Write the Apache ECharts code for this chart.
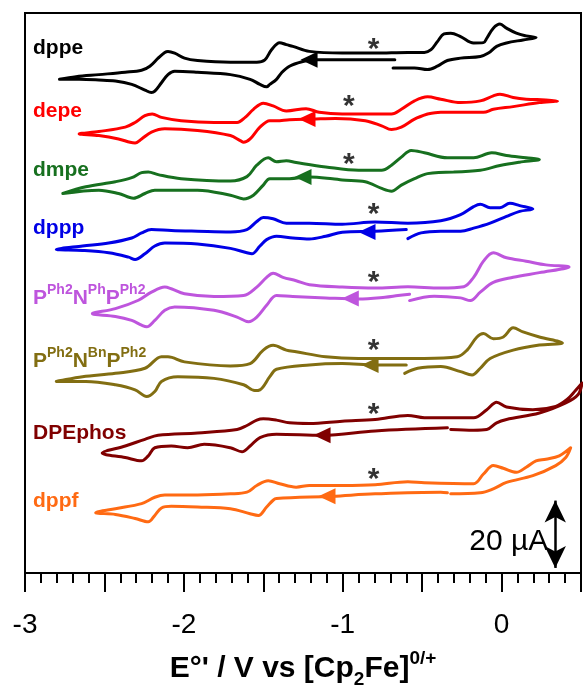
<!DOCTYPE html>
<html>
<head>
<meta charset="utf-8">
<script src="https://cdn.jsdelivr.net/npm/echarts@6/dist/echarts.min.js"></script>
<style>
  html, body { margin: 0; padding: 0; background: #fff; }
  #chart { width: 584px; height: 694px; }
</style>
</head>
<body>
<div id="chart"></div>
<script>
// Stacked cyclic voltammograms, potential E (V vs Cp2Fe 0/+) and current (µA, offset per trace).
// Each loop: start on the lower branch, sweep negative, return positive, then back to the start.

const dppe = [
  [-0.672,152.4],[-1.189,152.4],[-1.251,151.9],[-1.335,150.5],[-1.386,148.5],[-1.417,146.6],[-1.459,145.1],[-1.479,144.4],
  [-1.521,145.1],[-1.583,146.6],[-1.707,148.0],[-1.914,148.7],[-2.058,149.0],[-2.100,148.0],[-2.141,145.6],[-2.183,143.1],
  [-2.204,142.7],[-2.245,143.4],[-2.328,145.1],[-2.431,146.1],[-2.535,146.4],[-2.659,146.6],[-2.783,146.6],
  [-2.679,147.4],[-2.535,148.0],[-2.369,148.7],[-2.266,149.3],[-2.214,150.5],[-2.162,152.9],[-2.120,154.6],[-2.100,154.9],
  [-2.058,154.4],[-1.996,152.9],[-1.914,152.2],[-1.707,151.7],[-1.541,151.7],[-1.490,152.4],[-1.448,155.4],[-1.397,157.5],
  [-1.355,156.9],[-1.314,156.4],[-1.210,154.9],[-1.003,154.4],[-0.796,154.4],[-0.590,154.6],[-0.486,154.6],[-0.444,155.4],
  [-0.404,157.8],[-0.362,160.1],[-0.320,160.3],[-0.258,159.3],[-0.176,157.4],[-0.114,157.5],[-0.093,158.8],[-0.052,161.8],
  [-0.010,163.0],[0.031,161.8],[0.093,160.3],[0.155,159.5],[0.217,159.0],
  [0.135,158.3],[0.031,157.4],[-0.031,156.4],[-0.083,154.4],[-0.134,153.4],[-0.258,152.9],[-0.341,152.2],[-0.404,150.5],
  [-0.466,149.5],[-0.548,150.0],[-0.683,150.0]
];

const depe = [
  [-0.466,136.3],[-0.548,134.8],[-0.631,132.4],[-0.693,131.7],[-0.755,132.8],[-0.858,134.3],[-1.045,135.0],[-1.189,134.8],
  [-1.335,134.6],[-1.417,134.3],[-1.459,134.3],[-1.521,132.4],[-1.583,128.9],[-1.624,127.9],[-1.645,128.4],[-1.707,129.9],
  [-1.914,131.4],[-2.120,131.9],[-2.204,130.9],[-2.266,128.9],[-2.307,127.7],[-2.338,127.9],[-2.411,128.9],[-2.535,129.9],
  [-2.659,130.4],
  [-2.535,131.1],[-2.369,132.4],[-2.307,133.8],[-2.245,135.8],[-2.199,136.3],[-2.141,135.3],[-2.017,134.3],[-1.810,133.8],
  [-1.665,133.8],[-1.614,135.3],[-1.562,137.7],[-1.500,139.5],[-1.438,138.7],[-1.355,137.2],[-1.231,137.9],[-1.148,136.8],
  [-1.003,136.3],[-0.693,136.3],[-0.631,137.7],[-0.548,140.2],[-0.466,141.4],[-0.383,140.7],[-0.258,139.7],[-0.134,140.2],
  [-0.052,141.7],[-0.010,142.2],[0.073,141.2],[0.155,140.7],[0.279,140.5],[0.352,140.2],
  [0.238,139.7],[0.073,138.5],[-0.052,137.7],[-0.114,136.8],[-0.258,136.8],[-0.383,136.8],[-0.466,136.3]
];

const dmpe = [
  [-0.300,119.1],[-0.466,118.6],[-0.548,117.1],[-0.631,115.2],[-0.693,113.4],[-0.755,114.2],[-0.858,116.2],[-1.003,116.7],
  [-1.065,117.1],[-1.210,117.6],[-1.335,117.1],[-1.459,117.1],[-1.500,115.2],[-1.562,112.2],[-1.624,111.1],[-1.707,112.2],
  [-1.914,113.7],[-2.183,113.7],[-2.245,112.7],[-2.317,111.3],[-2.411,112.7],[-2.535,113.7],[-2.762,112.7],
  [-2.617,114.7],[-2.431,116.2],[-2.328,117.4],[-2.266,118.9],[-2.224,119.1],[-2.162,118.3],[-2.017,117.1],[-1.707,116.4],
  [-1.603,117.7],[-1.541,121.1],[-1.469,123.3],[-1.417,122.1],[-1.355,122.4],[-1.293,121.9],[-1.107,120.6],[-0.900,119.6],
  [-0.755,119.6],[-0.693,121.1],[-0.631,123.5],[-0.569,125.5],[-0.486,124.8],[-0.341,123.3],[-0.176,123.3],[-0.093,124.5],
  [-0.062,124.8],[0.031,124.0],[0.155,123.3],[0.238,122.8],
  [0.114,122.0],[-0.010,121.0],[-0.134,119.6],[-0.300,119.1]
];

const dppp = [
  [-0.600,102.0],[-0.796,101.5],[-1.003,101.2],[-1.107,100.0],[-1.210,99.2],[-1.314,99.5],[-1.417,100.0],[-1.479,99.0],
  [-1.521,97.1],[-1.572,94.8],[-1.603,95.1],[-1.707,96.4],[-1.914,97.7],[-2.120,98.0],[-2.183,97.1],[-2.245,94.8],
  [-2.307,93.1],[-2.348,93.8],[-2.473,95.1],[-2.638,95.8],[-2.803,96.1],
  [-2.638,97.1],[-2.473,98.0],[-2.328,99.5],[-2.266,101.0],[-2.204,102.0],[-2.079,101.7],[-1.914,101.5],[-1.707,101.3],
  [-1.603,102.0],[-1.541,104.4],[-1.500,105.6],[-1.438,105.2],[-1.355,103.9],[-1.210,103.9],[-1.003,103.6],[-0.796,104.2],
  [-0.590,103.9],[-0.383,104.6],[-0.258,106.4],[-0.176,108.8],[-0.134,109.5],[-0.072,108.5],[-0.010,108.5],[0.052,109.8],
  [0.114,109.1],[0.197,108.1],
  [0.114,107.4],[0.031,105.9],[-0.072,103.9],[-0.176,102.4],[-0.258,101.5],[-0.383,101.5],[-0.507,101.0],[-0.590,99.3]
];

const pnpPh = [
  [-0.579,82.8],[-0.652,82.4],[-0.734,81.9],[-0.900,81.4],[-1.107,81.7],[-1.314,82.1],[-1.417,82.4],[-1.479,79.5],
  [-1.541,76.0],[-1.593,74.6],[-1.665,76.0],[-1.810,78.0],[-2.058,79.0],[-2.120,78.0],[-2.183,75.0],[-2.234,73.1],
  [-2.266,73.6],[-2.328,75.0],[-2.431,76.2],[-2.576,77.0],
  [-2.431,78.5],[-2.286,81.0],[-2.204,83.4],[-2.120,84.9],[-2.079,84.4],[-1.996,82.9],[-1.810,82.1],[-1.624,82.4],
  [-1.541,84.9],[-1.479,87.8],[-1.438,89.0],[-1.376,87.8],[-1.293,86.8],[-1.210,85.6],[-1.003,84.9],[-0.796,84.6],
  [-0.590,85.0],[-0.383,84.6],[-0.238,85.0],[-0.176,87.8],[-0.114,92.6],[-0.052,95.1],[0.031,93.6],[0.155,92.6],
  [0.279,91.5],[0.425,90.9],
  [0.238,89.2],[0.073,87.8],[-0.052,86.3],[-0.134,83.4],[-0.196,80.9],[-0.258,81.7],[-0.424,82.2],[-0.579,80.9]
];

const pnpBn = [
  [-0.600,61.8],[-0.796,61.8],[-1.003,62.2],[-1.210,61.8],[-1.417,60.5],[-1.459,58.3],[-1.521,54.4],[-1.554,54.2],
  [-1.624,55.9],[-1.810,57.8],[-2.038,58.3],[-2.141,56.9],[-2.183,53.9],[-2.234,52.4],[-2.307,54.4],[-2.431,55.9],
  [-2.617,56.9],[-2.803,56.9],
  [-2.638,58.3],[-2.431,59.3],[-2.245,60.8],[-2.141,64.2],[-2.100,64.2],[-1.996,62.7],[-1.707,61.5],[-1.583,62.2],
  [-1.500,66.2],[-1.438,67.6],[-1.355,66.2],[-1.293,65.7],[-1.107,64.2],[-0.900,63.7],[-0.486,63.7],[-0.279,64.2],
  [-0.217,66.2],[-0.155,70.1],[-0.114,71.1],[-0.052,69.6],[0.011,70.1],[0.073,72.8],[0.135,71.6],[0.238,70.1],[0.383,68.3],
  [0.238,67.7],[0.073,66.2],[-0.072,63.7],[-0.134,60.8],[-0.186,58.8],[-0.258,59.8],[-0.383,61.3],[-0.528,60.8],[-0.610,59.3]
];

const dpephos = [
  [-0.341,43.1],[-0.796,42.2],[-1.127,40.9],[-1.417,41.2],[-1.521,40.2],[-1.583,37.7],[-1.634,36.0],[-1.707,37.2],
  [-1.872,38.2],[-1.976,37.2],[-2.079,37.7],[-2.183,37.2],[-2.224,34.8],[-2.266,33.3],[-2.369,34.3],[-2.514,35.6],
  [-2.369,37.7],[-2.245,39.7],[-2.162,40.9],[-1.914,41.6],[-1.665,42.6],[-1.603,43.8],[-1.541,45.4],[-1.500,45.8],
  [-1.417,45.4],[-1.335,44.6],[-1.210,44.4],[-1.003,45.1],[-0.796,45.6],[-0.590,46.8],[-0.486,46.1],[-0.176,46.1],
  [-0.093,48.5],[-0.031,50.7],[0.031,49.3],[0.197,48.5],[0.341,49.5],[0.414,51.6],[0.464,54.1],[0.507,56.4],
  [0.482,53.0],[0.404,50.5],[0.238,47.5],[0.031,45.6],[-0.031,44.6],[-0.093,42.6],[-0.176,42.4],[-0.320,42.6]
];

const dppf = [
  [-0.341,23.8],[-0.383,24.0],[-0.796,23.5],[-1.065,22.8],[-1.417,22.1],[-1.438,21.6],[-1.479,19.6],[-1.531,17.1],
  [-1.583,17.6],[-1.707,19.1],[-1.914,19.6],[-2.079,19.8],[-2.141,19.3],[-2.183,17.1],[-2.224,15.2],[-2.307,16.2],
  [-2.431,17.4],[-2.555,17.9],
  [-2.431,19.1],[-2.266,20.6],[-2.183,22.5],[-2.120,23.2],[-1.914,23.2],[-1.707,23.5],[-1.603,24.0],[-1.541,26.0],
  [-1.469,27.4],[-1.397,26.5],[-1.293,25.5],[-1.210,26.0],[-1.003,26.0],[-0.796,26.2],[-0.590,27.1],[-0.486,26.8],
  [-0.176,26.5],[-0.114,29.4],[-0.052,31.9],[0.011,31.1],[0.093,29.9],[0.155,31.4],[0.217,33.3],[0.279,33.8],
  [0.363,34.8],[0.435,37.2],
  [0.404,34.3],[0.341,31.9],[0.197,28.9],[0.031,26.9],[-0.052,25.0],[-0.134,23.8],[-0.320,23.5]
];

// Trace order (top to bottom), display labels and colours
const traces = [dppe, depe, dmpe, dppp, pnpPh, pnpBn, dpephos, dppf];
const traceLabels = [
  '{m|dppe}', '{m|depe}', '{m|dmpe}', '{m|dppp}',
  '{m|P}{s|Ph2}{m|N}{s|Ph}{m|P}{s|Ph2}',
  '{m|P}{s|Ph2}{m|N}{s|Bn}{m|P}{s|Ph2}',
  '{m|DPEphos}', '{m|dppf}'
];
const traceColors = ['#000000', '#FF0000', '#17701F', '#0000E6', '#BE55DD', '#826E12', '#800000', '#FF6A13'];

// Scan-direction arrows (on the initial sweep) and the "*" marks
const arrowPoints = [[-1.212,152.4],[-1.225,134.8],[-1.250,117.6],[-0.847,101.3],[-0.952,81.5],[-0.828,61.8],[-1.130,40.9],[-1.099,22.8]];
const starPoints = [[-0.831,157.5],[-0.987,140.4],[-0.987,123.3],[-0.831,108.5],[-0.831,88.2],[-0.831,68.0],[-0.831,49.0],[-0.831,29.7]];

// Current scale bar
const scaleBarE = 0.338;
const scaleBarBase = 1.5;
const scaleBarUA = 20;

// Potential axis
const xMin = -3, xMax = 0.5, xStep = 0.5;
const yMin = 0, yMax = 166.3;

const FONT = '"Liberation Sans", Arial, sans-serif';
const chart = echarts.init(document.getElementById('chart'), null, { renderer: 'canvas' });

const series = traces.map((d, i) => ({
  type: 'line',
  data: d,
  smooth: 0.35,
  showSymbol: false,
  symbol: 'none',
  clip: true,
  lineStyle: { color: traceColors[i], width: 3, join: 'round', cap: 'round' },
  silent: true,
  z: 2
}));

series.push({
  type: 'scatter',
  data: arrowPoints.map((p, i) => ({ value: p, itemStyle: { color: traceColors[i], opacity: 1 } })),
  symbol: 'triangle',
  symbolRotate: 90,
  symbolSize: [16, 17],
  itemStyle: { opacity: 1 },
  silent: true,
  z: 3
});

series.push({
  type: 'scatter',
  data: starPoints,
  symbolSize: 0,
  silent: true,
  label: {
    show: true, position: 'inside', formatter: '*',
    color: '#000', fontSize: 30, fontWeight: 'bold', fontFamily: FONT, offset: [4, 7]
  },
  markLine: {
    silent: true,
    symbol: ['arrow', 'arrow'],
    symbolSize: [16, 22],
    label: { show: false },
    lineStyle: { color: '#000', width: 2.5, type: 'solid', opacity: 1 },
    data: [[{ coord: [scaleBarE, scaleBarBase] }, { coord: [scaleBarE, scaleBarBase + scaleBarUA] }]]
  },
  z: 3
});

const labelY = [48, 111, 170, 228, 298, 361, 433, 501];
const graphics = traceLabels.map((t, i) => ({
  type: 'text',
  x: 33, y: labelY[i],
  silent: true,
  style: {
    text: t,
    verticalAlign: 'middle',
    rich: {
      m: { fontSize: 21, fontWeight: 'bold', fontFamily: FONT, fill: traceColors[i], lineHeight: 30 },
      s: { fontSize: 14, fontWeight: 'bold', fontFamily: FONT, fill: traceColors[i], lineHeight: 14, verticalAlign: 'top' }
    }
  }
}));

chart.setOption({
  animation: false,
  backgroundColor: '#fff',
  grid: { left: 25, top: 13, width: 564, height: 565.3, show: true, borderColor: '#000', borderWidth: 2, backgroundColor: 'transparent' },
  xAxis: {
    type: 'value', min: xMin, max: xMax, interval: xStep,
    axisLine: { show: true, onZero: false, lineStyle: { color: '#000', width: 2 } },
    axisTick: { show: true, length: 19, lineStyle: { color: '#000', width: 2 } },
    minorTick: { show: true, splitNumber: 5, length: 10, lineStyle: { color: '#000', width: 2 } },
    splitLine: { show: false },
    axisLabel: {
      color: '#000', fontSize: 28, fontFamily: FONT, margin: 38,
      formatter: v => (Math.abs(v - Math.round(v)) < 1e-9 ? String(Math.round(v)) : '')
    },
    name: '{a|E°\' / V vs [Cp}{b|2}{a|Fe]}{c|0/+}',
    nameLocation: 'middle',
    nameGap: 76,
    nameTextStyle: {
      rich: {
        a: { fontSize: 30, fontWeight: 'bold', fontFamily: FONT, color: '#000', lineHeight: 40 },
        b: { fontSize: 19, fontWeight: 'bold', fontFamily: FONT, color: '#000', lineHeight: 19, verticalAlign: 'bottom' },
        c: { fontSize: 19, fontWeight: 'bold', fontFamily: FONT, color: '#000', lineHeight: 19, verticalAlign: 'top' }
      }
    }
  },
  yAxis: {
    type: 'value', min: yMin, max: yMax,
    axisLine: { show: true, onZero: false, lineStyle: { color: '#000', width: 2 } },
    axisTick: { show: false },
    axisLabel: { show: false },
    splitLine: { show: false }
  },
  series: series,
  graphic: graphics
});

// "20 µA" beside the scale bar, placed from the bar's own data position
const mid = chart.convertToPixel({ gridIndex: 0 }, [scaleBarE, scaleBarBase + scaleBarUA / 2]);
graphics.push({
  type: 'text',
  x: mid[0] - 7, y: mid[1] + 7,
  silent: true,
  style: {
    text: scaleBarUA + ' µA',
    align: 'right', verticalAlign: 'middle',
    fontSize: 30, fontFamily: FONT, fill: '#000'
  }
});
chart.setOption({ graphic: graphics });
</script>
</body>
</html>
